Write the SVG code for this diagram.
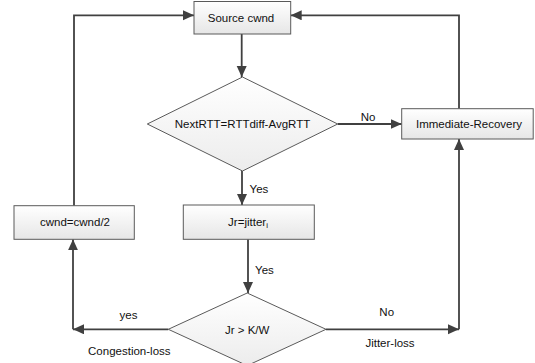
<svg xmlns="http://www.w3.org/2000/svg" width="535" height="363" viewBox="0 0 535 363">
<defs>
<linearGradient id="g" x1="0" y1="0" x2="0" y2="1">
<stop offset="0" stop-color="#ffffff"/>
<stop offset="1" stop-color="#e6e6e6"/>
</linearGradient>
<linearGradient id="gd" x1="0" y1="0" x2="0" y2="1">
<stop offset="0" stop-color="#ffffff"/>
<stop offset="1" stop-color="#ececec"/>
</linearGradient>
<marker id="ah" markerUnits="userSpaceOnUse" markerWidth="12" markerHeight="11" refX="11" refY="5" orient="auto">
<path d="M0,0 L11,5 L0,10 z" fill="#404040"/>
</marker>
<style>
.box{fill:url(#g);stroke:#5a5a5a;stroke-width:1}
.dia{fill:url(#gd);stroke:#5a5a5a;stroke-width:1}
.t{font-family:"Liberation Sans",Arial,sans-serif;font-size:11.5px;fill:#111111;text-anchor:middle}
.c{fill:none;stroke:#404040;stroke-width:1.8;marker-end:url(#ah)}
</style>
</defs>
<rect width="535" height="363" fill="#ffffff"/>
<g id="connectors">
<path class="c" d="M241.7,34 V77"/>
<path class="c" d="M337.7,124 H401.7"/>
<path class="c" d="M242,171 V205"/>
<path class="c" d="M248,239.3 V293"/>
<path class="c" d="M168.3,329.3 H73"/>
<path class="c" d="M73,329.3 V239.3"/>
<path class="c" d="M326,329.3 H459"/>
<path class="c" d="M459,329.3 V139"/>
<path class="c" d="M74,205.7 V15.3 H194"/>
<path class="c" d="M459,108.7 V15.3 H290.7"/>
<text class="t" x="368" y="121">No</text>
<text class="t" x="259" y="192.5">Yes</text>
<text class="t" x="264.5" y="273.5">Yes</text>
<text class="t" x="128.5" y="319">yes</text>
<text class="t" x="129.3" y="354.5">Congestion-loss</text>
<text class="t" x="386.7" y="315.7">No</text>
<text class="t" x="390" y="346.7">Jitter-loss</text>
</g>
<g id="source">
<rect class="box" x="194" y="1.5" width="96.7" height="32.5"/>
<text class="t" x="241" y="21.5">Source cwnd</text>
</g>
<g id="decision1">
<polygon class="dia" points="242.5,77 337.7,124 242.5,171 147.3,124"/>
<text class="t" x="242.5" y="128">NextRTT=RTTdiff-AvgRTT</text>
</g>
<g id="recovery">
<rect class="box" x="401.7" y="108.7" width="131.5" height="30.3"/>
<text class="t" x="469" y="127.5">Immediate-Recovery</text>
</g>
<g id="halve">
<rect class="box" x="14" y="205.7" width="120.3" height="33.6"/>
<text class="t" x="75" y="226">cwnd=cwnd/2</text>
</g>
<g id="jitter">
<rect class="box" x="183.3" y="205" width="131" height="34.3"/>
<text class="t" x="248" y="226">Jr=jitter<tspan font-size="8" dy="2">i</tspan></text>
</g>
<g id="decision2">
<polygon class="dia" points="247.2,293 326,329.3 247.2,365.6 168.3,329.3"/>
<text class="t" x="247.2" y="333.5">Jr &gt; K/W</text>
</g>
</svg>
